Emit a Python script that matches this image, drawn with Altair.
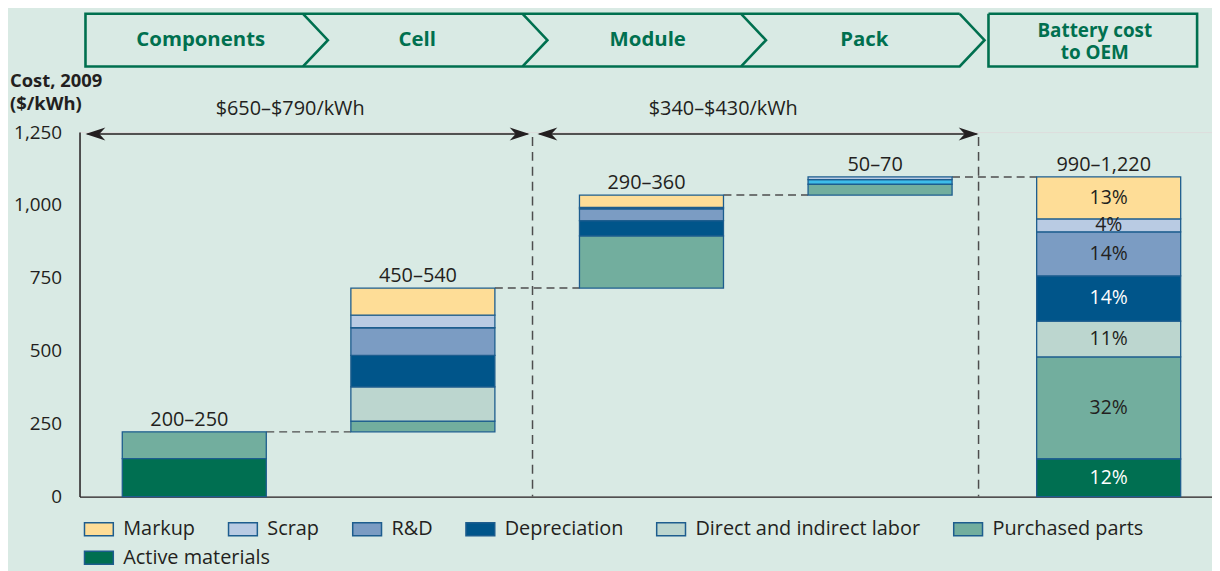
import altair as alt
import pandas as pd

# ---------------- data ----------------
stages = ["Components", "Cell", "Module", "Pack", "Battery cost to OEM"]
range_labels = ["200–250", "450–540", "290–360", "50–70", "990–1,220"]
categories = ["Markup", "Scrap", "R&D", "Depreciation",
              "Direct and indirect labor", "Purchased parts", "Active materials"]
colors = ["#fedd97", "#b9cbe3", "#7b9cc3", "#00558a", "#bcd6cf", "#72ae9e", "#006f51"]

components_seg = ["Active materials", "Purchased parts"]
components_val = [130, 92]
cell_seg = ["Purchased parts", "Direct and indirect labor", "Depreciation", "R&D", "Scrap", "Markup"]
cell_val = [37, 117, 108, 95, 43, 93]
module_seg = ["Purchased parts", "Depreciation", "R&D", "Scrap", "Markup"]
module_val = [179, 52, 41, 5, 42]
pack_seg = ["Purchased parts", "Pack highlight", "Scrap"]
pack_val = [37, 16, 9]
oem_seg = ["Active materials", "Purchased parts", "Direct and indirect labor",
           "Depreciation", "R&D", "Scrap", "Markup"]
oem_val = [129, 350, 123, 155, 151, 44, 144]
oem_pct = ["12%", "32%", "11%", "14%", "14%", "4%", "13%"]

span_labels = ["$650–$790/kWh", "$340–$430/kWh"]
y_ticks = [0, 250, 500, 750, 1000, 1250]

# ---------------- build tables ----------------
HW = 0.315  # half bar width in stage units
seg_lists = [(components_seg, components_val), (cell_seg, cell_val),
             (module_seg, module_val), (pack_seg, pack_val), (oem_seg, oem_val)]
rows, tops = [], []
running = 0
for i, (segs, vals) in enumerate(seg_lists):
    base = 0 if i in (0, 4) else running
    y = base
    for s, v in zip(segs, vals):
        rows.append(dict(stage=stages[i], xl=i - HW, xr=i + HW, cat=s,
                         y0=y, y1=y + v, mid=y + v / 2, idx=i))
        y += v
    tops.append(y)
    running = y
seg_df = pd.DataFrame(rows)

pct_df = seg_df[seg_df.idx == 4].copy().reset_index(drop=True)
pct_df["pct"] = oem_pct
pct_df["tcol"] = ["#ffffff" if c in ("Depreciation", "Active materials") else "#231f20"
                  for c in pct_df["cat"]]

lab_df = pd.DataFrame({"idx": list(range(5)), "top": tops, "lab": range_labels})
conn_df = pd.DataFrame({"x": [i + HW for i in range(4)],
                        "x2": [i + 1 - HW for i in range(4)],
                        "y": tops[:4]})

# ---------------- layout helpers (pixel decorations) ----------------
OX, OY = 80, 131  # page position of plot origin
def px(v): return v - OX
def py(v): return v - OY

GREEN = "#00704f"
INK = "#231f20"
STROKE = "#1d5d8e"
FONT = "Open Sans"

hdr_pts = []
outer = [(966, 12), (86, 12), (86, 65), (966, 65), (991, 38.5), (966, 12)]
for k, (a, b) in enumerate(outer):
    hdr_pts.append(dict(g="outer", o=k, x=px(a), y=py(b)))
for n, tx in enumerate([305, 526, 746]):
    for k, (a, b) in enumerate([(tx, 12), (tx + 25, 38.5), (tx, 65)]):
        hdr_pts.append(dict(g=f"ch{n}", o=k, x=px(a), y=py(b)))
for k, (a, b) in enumerate([(995, 12), (1205, 12), (1205, 65), (995, 65), (995, 12)]):
    hdr_pts.append(dict(g="oem", o=k, x=px(a), y=py(b)))
hdr_df = pd.DataFrame(hdr_pts)

hdr_text = pd.DataFrame({
    "t": ["Components", "Cell", "Module", "Pack"],
    "x": [px(v) for v in [202, 420, 652, 870]],
    "y": [py(38)] * 4,
})
oem_text = pd.DataFrame({
    "t": ["Battery cost", "to OEM"],
    "x": [px(1102), px(1102)],
    "y": [py(29.5), py(51)],
})

title_df = pd.DataFrame({"t": ["Cost, 2009", "($/kWh)"],
                         "x": [px(10), px(10)], "y": [py(86), py(109)]})

span_df = pd.DataFrame({"t": span_labels, "x": [px(292), px(728)], "y": [py(108), py(108)]})

arrow_lines = pd.DataFrame({"x": [px(88), px(543)], "x2": [px(531), px(983)], "y": [py(133), py(133)]})
arrow_r = pd.DataFrame({"x": [px(523), px(975)], "y": [py(133), py(133)]})
arrow_l = pd.DataFrame({"x": [px(96), px(551)], "y": [py(133), py(133)]})
sep_df = pd.DataFrame({"x": [px(536), px(985)], "y": [py(136), py(136)], "y2": [py(498), py(498)]})

RIGHT_HEAD = "M1,0L-1,-0.65L-0.4,0L-1,0.65Z"
LEFT_HEAD = "M-1,0L1,-0.65L0.4,0L1,0.65Z"
RECT_SYM = "M-1,-0.45L1,-0.45L1,0.45L-1,0.45Z"

# ---------------- chart ----------------
xscale = alt.Scale(domain=[-0.502, 4.452], nice=False, zero=False)
yscale = alt.Scale(domain=[0, 1250], nice=False)

legend_common = dict(title=None, orient="none", direction="horizontal", columns=0,
                     symbolType=RECT_SYM, symbolSize=841, symbolStrokeColor=STROKE,
                     symbolStrokeWidth=1.5, symbolOpacity=1, labelFont=FONT,
                     labelFontSize=20, labelColor=INK, labelOffset=9, labelLimit=400,
                     columnPadding=30)

row1 = categories[:-1]
bars_main = alt.Chart(seg_df).transform_filter(
    alt.datum.cat != "Active materials"
).mark_rect(stroke=STROKE, strokeWidth=1.3).encode(
    x=alt.X("xl:Q", scale=xscale,
            axis=alt.Axis(labels=False, ticks=False, title=None, grid=False,
                          domainColor=INK, domainWidth=1.5)),
    x2="xr:Q",
    y=alt.Y("y0:Q", scale=yscale,
            axis=alt.Axis(values=y_ticks, format=",.0f", title=None, ticks=False, tickSize=0,
                          labelPadding=18, labelFontSize=19, labelColor=INK, labelFont=FONT,
                          domainColor=INK, domainWidth=1.5, grid=False)),
    y2="y1:Q",
    fill=alt.Fill("cat:N",
                  scale=alt.Scale(domain=row1 + ["Pack highlight"],
                                  range=colors[:-1] + ["#3dbde9"]),
                  legend=alt.Legend(values=row1, legendX=4, legendY=384, **legend_common)),
)

bars_active = alt.Chart(seg_df).transform_filter(
    alt.datum.cat == "Active materials"
).mark_rect(stroke=STROKE, strokeWidth=1.3).encode(
    x=alt.X("xl:Q", scale=xscale), x2="xr:Q",
    y=alt.Y("y0:Q", scale=yscale), y2="y1:Q",
    fill=alt.Fill("cat:N",
                  scale=alt.Scale(domain=["Active materials"], range=[colors[-1]]),
                  legend=alt.Legend(legendX=4, legendY=413, **legend_common)),
)

conn = alt.Chart(conn_df).mark_rule(strokeDash=[8, 5], color="#4d4d4d", strokeWidth=1.5).encode(
    x=alt.X("x:Q", scale=xscale), x2="x2:Q", y=alt.Y("y:Q", scale=yscale))

labels = alt.Chart(lab_df).mark_text(dy=-6, dx=-5, baseline="alphabetic", fontSize=20,
                                     font=FONT, color=INK).encode(
    x=alt.X("idx:Q", scale=xscale), y=alt.Y("top:Q", scale=yscale), text="lab:N")

pcts = alt.Chart(pct_df).mark_text(baseline="middle", fontSize=19.5, font=FONT).encode(
    x=alt.X("idx:Q", scale=xscale), y=alt.Y("mid:Q", scale=yscale), text="pct:N",
    color=alt.Color("tcol:N", scale=None))

NOS = dict(scale=None)
header_lines = alt.Chart(hdr_df).mark_line(color=GREEN, strokeWidth=2.6, strokeJoin="miter").encode(
    x=alt.X("x:Q", **NOS), y=alt.Y("y:Q", **NOS), detail="g:N", order="o:Q")

header_text = alt.Chart(hdr_text).mark_text(font=FONT, fontSize=20.5, fontWeight="bold",
                                            color=GREEN, baseline="middle").encode(
    x=alt.X("x:Q", **NOS), y=alt.Y("y:Q", **NOS), text="t:N")

oem_header = alt.Chart(oem_text).mark_text(font=FONT, fontSize=19, fontWeight="bold",
                                           color=GREEN, baseline="middle").encode(
    x=alt.X("x:Q", **NOS), y=alt.Y("y:Q", **NOS), text="t:N")

ytitle = alt.Chart(title_df).mark_text(font=FONT, fontSize=18.5, fontWeight="bold", color=INK,
                                       align="left", baseline="alphabetic").encode(
    x=alt.X("x:Q", **NOS), y=alt.Y("y:Q", **NOS), text="t:N")

span_text = alt.Chart(span_df).mark_text(font=FONT, fontSize=20, color=INK,
                                         baseline="middle").encode(
    x=alt.X("x:Q", **NOS), y=alt.Y("y:Q", **NOS), text="t:N")

arrows = alt.Chart(arrow_lines).mark_rule(color=INK, strokeWidth=1.5).encode(
    x=alt.X("x:Q", **NOS), x2="x2:Q", y=alt.Y("y:Q", **NOS))
heads_r = alt.Chart(arrow_r).mark_point(shape=RIGHT_HEAD, size=400, filled=True,
                                        color=INK, opacity=1).encode(
    x=alt.X("x:Q", **NOS), y=alt.Y("y:Q", **NOS))
heads_l = alt.Chart(arrow_l).mark_point(shape=LEFT_HEAD, size=400, filled=True,
                                        color=INK, opacity=1).encode(
    x=alt.X("x:Q", **NOS), y=alt.Y("y:Q", **NOS))

seps = alt.Chart(sep_df).mark_rule(strokeDash=[9, 6], color="#4d4d4d", strokeWidth=1.5).encode(
    x=alt.X("x:Q", **NOS), y=alt.Y("y:Q", **NOS), y2="y2:Q")

chart = alt.layer(
    seps, conn, bars_main, bars_active, labels, pcts, header_lines, header_text,
    oem_header, ytitle, span_text, arrows, heads_r, heads_l
).resolve_scale(
    fill="independent"
).resolve_legend(
    fill="independent"
).properties(
    width=1140, height=367,
    autosize=alt.AutoSizeParams(type="none"),
    padding={"left": 72, "top": 123, "right": 0, "bottom": 73},
    background="#d9eae4",
).configure_view(stroke=None).configure(font=FONT)

chart.save("out.html", embed_options={"renderer": "svg", "actions": False})
